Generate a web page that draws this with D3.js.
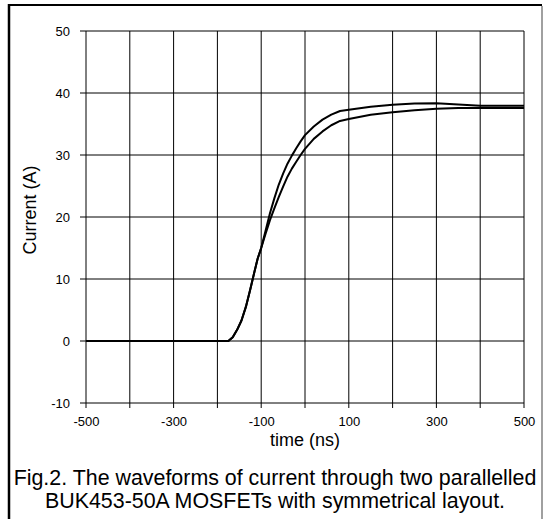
<!DOCTYPE html>
<html>
<head>
<meta charset="utf-8">
<script src="https://cdn.jsdelivr.net/npm/d3@7"></script>
<style>
  html, body { margin: 0; padding: 0; background: #fff; }
  svg { display: block; }
  text { font-family: "Liberation Sans", Arial, sans-serif; fill: #000; }
</style>
</head>
<body>
<svg id="chart" width="544" height="519"></svg>
<script>
// ---- data ----
const timeNs = [-500, -175, -165, -155, -145, -135, -125, -115, -108, -100,
  -90, -80, -70, -60, -50, -40, -30, -20, -10, 0,
  20, 40, 60, 80, 100, 150, 200, 250, 300, 350, 400, 450, 500];
const currentA = [0, 0, 0.6, 1.8, 3.3, 5.5, 8.3, 11.3, 13.3, 15,
  17.8, 20.6, 23.0, 25.2, 27.0, 28.6, 29.9, 31.1, 32.2, 33.2,
  34.6, 35.7, 36.5, 37.1, 37.3, 37.8, 38.1, 38.3, 38.35, 38.15, 37.95, 37.95, 37.95];
const currentB = [0, 0, 0.6, 1.8, 3.3, 5.5, 8.3, 11.3, 13.3, 15,
  17.3, 19.5, 21.4, 23.2, 24.9, 26.5, 27.8, 28.9, 30.0, 31.0,
  32.6, 33.8, 34.8, 35.5, 35.8, 36.5, 36.9, 37.2, 37.45, 37.6, 37.6, 37.6, 37.6];
const xGridValues = [-500, -400, -300, -200, -100, 0, 100, 200, 300, 400, 500];
const xTickLabels = [-500, -300, -100, 100, 300, 500];
const yTickValues = [-10, 0, 10, 20, 30, 40, 50];
const xTitle = "time (ns)";
const yTitle = "Current (A)";
const captionLines = [
  "Fig.2. The waveforms of current through two parallelled",
  "BUK453-50A MOSFETs with symmetrical layout."
];

// ---- layout ----
const svg = d3.select("#chart");
const plot = { left: 86, right: 524, top: 31, bottom: 403 };
const x = d3.scaleLinear().domain([-500, 500]).range([plot.left, plot.right]);
const y = d3.scaleLinear().domain([-10, 50]).range([plot.bottom, plot.top]);
const plainFmt = d => String(d);   // hyphen-minus, as in the original

// figure frame
svg.append("line").attr("x1", 8).attr("x2", 542).attr("y1", 5).attr("y2", 5)
  .attr("stroke", "#000").attr("stroke-width", 2);
svg.append("line").attr("x1", 9).attr("x2", 9).attr("y1", 4).attr("y2", 519)
  .attr("stroke", "#000").attr("stroke-width", 2.5);
svg.append("line").attr("x1", 542).attr("x2", 542).attr("y1", 6).attr("y2", 519)
  .attr("stroke", "#a0a0a0").attr("stroke-width", 2);

// grid
const g = svg.append("g");
g.selectAll("line.vg").data(xGridValues).enter().append("line")
  .attr("class", "vg")
  .attr("x1", d => x(d)).attr("x2", d => x(d))
  .attr("y1", plot.top).attr("y2", plot.bottom + 5)
  .attr("stroke", "#000").attr("stroke-width", 1);
g.selectAll("line.hg").data(yTickValues).enter().append("line")
  .attr("class", "hg")
  .attr("x1", plot.left - 6).attr("x2", plot.right)
  .attr("y1", d => y(d)).attr("y2", d => y(d))
  .attr("stroke", "#000").attr("stroke-width", 1);

// axes (labels only; tick marks via grid extensions)
const xAxis = d3.axisBottom(x).tickValues(xTickLabels).tickFormat(plainFmt)
  .tickSize(0).tickPadding(14);
svg.append("g").attr("transform", `translate(0,${plot.bottom})`).call(xAxis)
  .call(s => s.select(".domain").remove())
  .call(s => s.selectAll("text").style("font-size", "13px")
    .style("font-family", '"Liberation Sans", Arial, sans-serif'));
const yAxis = d3.axisLeft(y).tickValues(yTickValues).tickFormat(plainFmt)
  .tickSize(0).tickPadding(16);
svg.append("g").attr("transform", `translate(${plot.left},0)`).call(yAxis)
  .call(s => s.select(".domain").remove())
  .call(s => s.selectAll("text").style("font-size", "13px")
    .style("font-family", '"Liberation Sans", Arial, sans-serif'));

// curves
const line = d3.line().x((d, i) => x(timeNs[i])).y(d => y(d));
[currentA, currentB].forEach(series => {
  svg.append("path").datum(series)
    .attr("d", line)
    .attr("fill", "none").attr("stroke", "#000")
    .attr("stroke-width", 2).attr("stroke-linejoin", "round");
});

// titles
svg.append("text").attr("x", (plot.left + plot.right) / 2).attr("y", 446)
  .attr("text-anchor", "middle").style("font-size", "18px").text(xTitle);
svg.append("text")
  .attr("transform", "translate(36,210) rotate(-90)")
  .attr("text-anchor", "middle").style("font-size", "18px").text(yTitle);

// caption
svg.selectAll("text.cap").data(captionLines).enter().append("text")
  .attr("class", "cap")
  .attr("x", 275).attr("y", (d, i) => 485 + i * 23)
  .attr("text-anchor", "middle").style("font-size", "21.4px").text(d => d);
</script>
</body>
</html>
